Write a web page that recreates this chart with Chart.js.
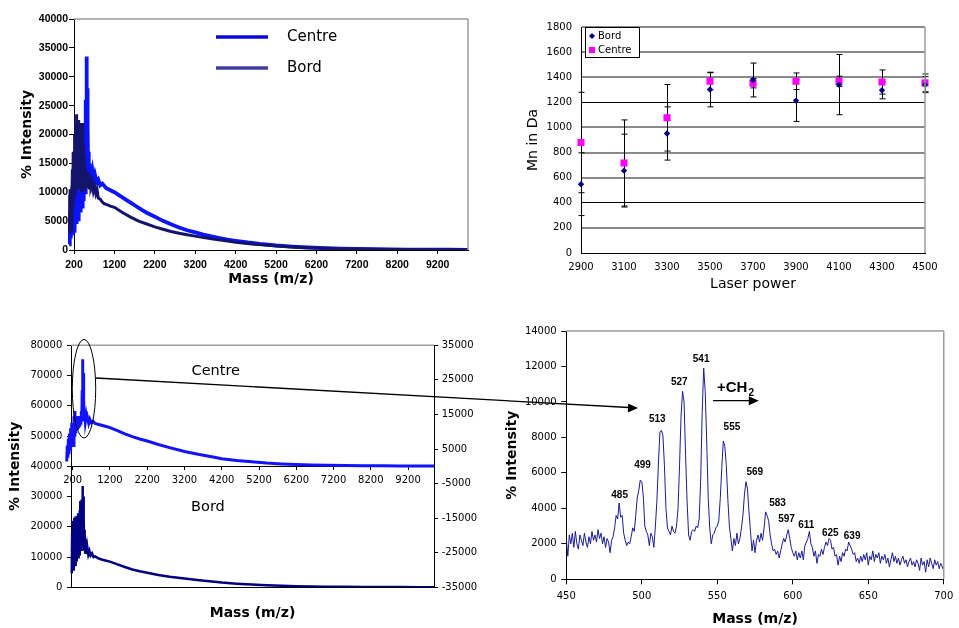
<!DOCTYPE html>
<html>
<head>
<meta charset="utf-8">
<script src="https://cdn.jsdelivr.net/npm/chart.js@4.4.1/dist/chart.umd.min.js"></script>
<style>
  html, body { margin: 0; padding: 0; background: #fff; }
  #page { position: relative; width: 959px; height: 628px; overflow: hidden; }
  #page canvas { position: absolute; }
  #links { position: absolute; left: 0; top: 0; pointer-events: none; }
</style>
</head>
<body>
<div id="page">
  <canvas id="c1" width="480" height="300" style="left:0;top:0"></canvas>
  <canvas id="c2" width="479" height="300" style="left:480px;top:0"></canvas>
  <canvas id="c3" width="480" height="308" style="left:0;top:320px"></canvas>
  <canvas id="c4" width="479" height="308" style="left:480px;top:320px"></canvas>
  <svg id="links" width="959" height="628">
    <ellipse cx="84" cy="388.7" rx="11.7" ry="49.3" fill="none" stroke="#000" stroke-width="1"/>
    <line x1="96" y1="378" x2="629" y2="407.5" stroke="#000" stroke-width="1.3"/>
    <polygon points="638,408 628.2,403.4 627.8,412.4" fill="#000"/>
  </svg>
</div>
<script>
// top left: whole spectra, centre vs edge of the spot
const p1Ticks = [200, 1200, 2200, 3200, 4200, 5200, 6200, 7200, 8200, 9200];
const p1CentreMass = [80, 90, 100, 110, 120, 130, 140, 150, 160, 170, 180, 190, 200, 210, 220, 230, 240, 250, 260, 270,
  280, 290, 300, 310, 320, 330, 340, 350, 360, 370, 380, 390, 400, 410, 420, 430, 440, 450, 460, 470,
  480, 490, 500, 508, 514, 520, 526, 532, 540, 550, 560, 570, 585, 600, 620, 640, 660, 690, 720, 760,
  800, 850, 900, 1000, 1100, 1200, 1300, 1400, 1500, 1600, 1700, 1800, 1900, 2000, 2200, 2400, 2600, 2800,
  3000, 3200, 3400, 3600, 3800, 4000, 4200, 4500, 4800, 5200, 5600, 6000, 6400, 6800, 7200, 7600, 8000,
  8500, 9000, 9500, 9950];
const p1CentreInt = [1000, 5500, 1500, 7000, 2000, 9000, 2500, 10000, 3000, 12000, 3500, 9500, 4000, 13000, 3000, 11000, 5000, 15000, 4500, 12500,
  5500, 16000, 6000, 13500, 5000, 17000, 7000, 14500, 6500, 16500, 8000, 15000, 7500, 17500, 9000, 14000, 8500, 18000, 11000, 22000,
  10000, 26000, 14000, 30000, 33500, 20000, 28000, 15000, 22000, 13500, 17000, 12500, 15000, 12000, 14000, 12500, 13500, 12000, 13000, 11800,
  12200, 11200, 11500, 10700, 10350, 10000, 9550, 9100, 8650, 8200, 7750, 7300, 6850, 6450, 5770, 5050, 4450, 3900,
  3420, 3050, 2680, 2350, 2060, 1800, 1600, 1300, 1050, 780, 580, 430, 330, 250, 190, 140, 110,
  80, 60, 45, 35];
const p1BordMass = [80, 88, 96, 104, 112, 120, 130, 140, 150, 160, 170, 180, 190, 200, 210, 220, 230, 240, 250, 260,
  270, 280, 290, 300, 310, 320, 330, 340, 350, 360, 370, 380, 390, 400, 410, 420, 430, 440, 450, 460,
  470, 480, 500, 520, 540, 560, 580, 600, 620, 650, 680, 710, 740, 770, 800, 850, 900, 950, 1000, 1100,
  1200, 1400, 1600, 1800, 2000, 2200, 2400, 2600, 2800, 3000, 3200, 3600, 4000, 4200, 4600, 5000, 5400, 5800,
  6200, 6600, 7000, 7500, 8000, 8500, 9000, 9500, 9950];
const p1BordInt = [3000, 9500, 4000, 10500, 5000, 9000, 3500, 11000, 6000, 14000, 7000, 17000, 8000, 16000, 9000, 20000, 10000, 22000, 12000, 23500,
  11000, 21000, 13000, 22500, 10500, 20000, 12000, 22000, 11000, 21500, 13000, 20000, 10000, 19000, 12000, 22000, 11000, 18000, 10500, 16000,
  11500, 14000, 11000, 13500, 11000, 12500, 10500, 12000, 11000, 11800, 10200, 11000, 9800, 10500, 9000, 8800, 8300, 8000, 7900, 7600,
  7400, 6500, 5700, 5000, 4500, 4000, 3600, 3200, 2900, 2650, 2400, 1950, 1550, 1350, 1050, 800, 600, 450,
  330, 250, 180, 130, 90, 70, 50, 40, 30];

// top right: Mn against laser power, with error bars
const laserPower = ['2900', '3100', '3300', '3500', '3700', '3900', '4100', '4300', '4500'];
const mnBord = [548, 656, 952, 1302, 1378, 1214, 1341, 1296, 1341];
const mnBordErr = [250, 290, 212, 138, 135, 166, 240, 68, 64];
const mnCentre = [880, 717, 1077, 1368, 1352, 1368, 1368, 1362, 1355];
const mnCentreErr = [400, 343, 265, 68, 37, 66, 40, 96, 71];

// bottom left: the two spectra stacked (Centre on the right axis)
const p3Ticks = [200, 1200, 2200, 3200, 4200, 5200, 6200, 7200, 8200, 9200];
const p3CentreMass = [40, 55, 70, 85, 100, 115, 130, 145, 160, 175, 190, 205, 220, 235, 250, 260, 270, 285, 300, 315,
  330, 345, 360, 375, 390, 405, 420, 435, 445, 455, 462, 470, 476, 482, 490, 500, 510, 525, 540, 560,
  580, 600, 630, 660, 700, 750, 800, 900, 1000, 1100, 1200, 1400, 1600, 1800, 2000, 2200, 2500, 2800,
  3200, 3600, 4000, 4200, 4600, 5000, 5400, 5800, 6200, 6600, 7000, 7500, 8000, 8500, 9000, 9500, 9900];
const p3CentreInt = [1400, 6000, 2500, 8000, 3500, 9500, 5000, 11000, 6000, 12500, 7500, 11000, 6000, 14500, 9000, 16000, 10000, 14000, 11500, 13000,
  10500, 14500, 11000, 13500, 11500, 14000, 12000, 16000, 13000, 22000, 14000, 31000, 20000, 27000, 16000, 19000, 13500, 15500, 13000, 14500,
  12800, 14000, 12500, 13600, 12600, 13000, 12400, 12100, 11800, 11500, 11200, 10300, 9400, 8600, 7900, 7300, 6300, 5400,
  4300, 3400, 2600, 2200, 1700, 1300, 950, 700, 520, 400, 300, 220, 170, 130, 100, 80, 70];
const p3BordMass = [175, 185, 195, 205, 215, 225, 235, 245, 255, 265, 275, 285, 295, 305, 315, 325, 335, 345, 355, 365,
  375, 385, 395, 405, 415, 425, 435, 445, 455, 465, 472, 480, 490, 500, 510, 520, 535, 550, 570, 590,
  620, 650, 680, 720, 760, 800, 900, 1000, 1100, 1200, 1400, 1600, 1800, 2000, 2200, 2500, 2800, 3200,
  3600, 4000, 4200, 4600, 5000, 5400, 5800, 6200, 6600, 7000, 7500, 8000, 8500, 9000, 9500, 9900];
const p3BordInt = [4600, 18000, 6000, 22000, 8000, 20000, 5500, 23000, 9000, 21000, 7000, 23500, 10000, 20000, 8500, 22500, 11000, 24500, 9500, 21000,
  12000, 25500, 10500, 28500, 13000, 26000, 12000, 29000, 15000, 33500, 17000, 30000, 14000, 23000, 12500, 19000, 11500, 16000, 11000, 13500,
  10800, 12000, 10500, 11200, 10000, 10200, 9500, 9100, 8800, 8500, 7600, 6700, 5900, 5300, 4800, 4100, 3500, 2900,
  2300, 1800, 1550, 1200, 900, 650, 480, 360, 270, 200, 150, 110, 80, 60, 50, 40];
const p3Names = ['Centre', 'Bord'];
const p3NameMass = [4040, 3830];
const p3NameInt = [27370, 26550];   // Centre on right axis, Bord on left axis

// bottom right: zoom 450-700, one value per m/z unit
const zoomStart = 450;
const zoomInt = [
  2300, 1300, 2500, 2000, 2600, 1800, 2700, 2000, 1700, 2500,
  2200, 1900, 2600, 2100, 1800, 2400, 2000, 2700, 2200, 2500,
  2100, 2800, 2300, 2600, 2000, 2400, 1800, 2300, 2100, 1500,
  2200, 2400, 2900, 3600, 3400, 4300, 3500, 3600, 2600, 2200,
  1900, 2100, 2000, 2400, 2900, 2700, 3600, 4600, 5000, 5600,
  5500, 4700, 3000, 2700, 2500, 1900, 2600, 2400, 1800, 3000,
  4400, 6500, 8300, 8400, 8100, 6400, 4000, 2900, 2700, 2500,
  3000, 2700, 2600, 3000, 4000, 6400, 9200, 10600, 10000, 7000,
  4400, 2500, 2200, 2700, 2800, 2700, 3000, 2900, 3400, 5600,
  9400, 11900, 10600, 7800, 4600, 2900, 2000, 2500, 2600, 2900,
  3000, 3300, 4600, 6300, 7800, 7500, 6400, 4500, 3000, 2300,
  1600, 2300, 1900, 2600, 2000, 2300, 2900, 3600, 4800, 5500,
  5100, 3800, 2700, 1600, 2200, 1500, 2200, 2500, 2100, 2600,
  2200, 2900, 3800, 3600, 3300, 2500, 2000, 1600, 1700, 1400,
  1600, 1200, 1600, 2000, 2300, 2100, 2500, 2800, 2300, 1800,
  1500, 1300, 1600, 1100, 1500, 1200, 1600, 1100, 1900, 2100,
  2300, 2700, 2000, 1800, 1300, 1600, 900, 1400, 1300, 1700,
  1400, 1800, 2100, 1900, 2300, 2200, 1700, 1800, 1300, 1400,
  800, 1300, 1000, 1500, 1300, 1700, 1600, 2100, 1900, 1700,
  1400, 1500, 1000, 1200, 900, 1300, 1000, 1400, 1100, 1500,
  800, 1300, 1100, 1600, 1000, 1400, 1200, 1500, 900, 1300,
  1100, 1400, 900, 1200, 700, 1100, 1500, 1000, 1300, 900,
  1200, 800, 1100, 1300, 900, 1100, 700, 1000, 1200, 800,
  1000, 700, 1100, 900, 500, 1200, 800, 1000, 400, 1100,
  700, 1200, 900, 600, 1100, 800, 1000, 600, 900, 700,
  500];
const peakMass = [485, 499, 513, 527, 541, 555, 569, 583, 597, 611, 625, 639];
const peakLabelMass = [485.3, 500.5, 510.3, 524.8, 539.3, 559.7, 574.8, 589.9, 595.9, 609, 624.8, 639.3];
const peakLabelInt = [4750, 6450, 9040, 11130, 12430, 8590, 6050, 4310, 3400, 3060, 2610, 2440];
const ch2Text = [549.8, 10580];      // mass, intensity of the text baseline
const ch2Arrow = [547.2, 577.5, 10070];

Chart.defaults.font.family = "'DejaVu Sans', sans-serif";
Chart.defaults.color = '#000';
Chart.defaults.animation = false;

const plain = v => String(v);
const fixWidth = w => s => { s.width = w; };
const fixHeight = h => s => { s.height = h; };
const pairs = (xs, ys) => xs.map((x, i) => ({ x: x, y: ys[i] }));
const titleFont = { family: "'DejaVu Sans'", size: 14, weight: 'bold' };
const smallTicks = { family: "'DejaVu Sans'", size: 10 };
const leftClip = { left: 6, top: 0, right: 0, bottom: 0 };

// grey top / right edge of the plot area
const framePlugin = {
  id: 'frame',
  afterDatasetsDraw(chart, args, opts) {
    const { ctx, chartArea: a } = chart;
    ctx.save();
    ctx.strokeStyle = '#9c9c9c';
    ctx.lineWidth = 1.5;
    ctx.beginPath();
    if (opts.top) { ctx.moveTo(a.left, a.top); ctx.lineTo(a.right, a.top); }
    if (opts.right) { ctx.moveTo(a.right, a.top); ctx.lineTo(a.right, a.bottom); }
    ctx.stroke();
    ctx.restore();
  }
};

const p1Key = {
  id: 'p1key',
  afterDraw(chart) {
    const ctx = chart.ctx;
    ctx.save();
    ctx.font = "15px 'DejaVu Sans'";
    ctx.textBaseline = 'middle';
    chart.data.datasets.forEach((ds, i) => {
      const y = 37 + i * 31;
      ctx.strokeStyle = ds.keyColor;
      ctx.lineWidth = 3.5;
      ctx.beginPath(); ctx.moveTo(216, y); ctx.lineTo(268, y); ctx.stroke();
      ctx.fillStyle = '#000';
      ctx.fillText(ds.label, 287, y);
    });
    ctx.restore();
  }
};

const errorBars = {
  id: 'errorBars',
  beforeDatasetsDraw(chart) {
    const ctx = chart.ctx;
    ctx.save();
    ctx.strokeStyle = '#000';
    ctx.lineWidth = 1;
    chart.data.datasets.forEach((ds, i) => {
      const meta = chart.getDatasetMeta(i);
      const ys = chart.scales[meta.yAxisID];
      meta.data.forEach((pt, j) => {
        const t = ys.getPixelForValue(ds.data[j] + ds.errorBars[j]);
        const b = ys.getPixelForValue(ds.data[j] - ds.errorBars[j]);
        const x = Math.round(pt.x) + 0.5;
        ctx.beginPath();
        ctx.moveTo(x, t); ctx.lineTo(x, b);
        ctx.moveTo(x - 3, t); ctx.lineTo(x + 3, t);
        ctx.moveTo(x - 3, b); ctx.lineTo(x + 3, b);
        ctx.stroke();
      });
    });
    ctx.restore();
  }
};

const p2Key = {
  id: 'p2key',
  afterDraw(chart) {
    const ctx = chart.ctx;
    ctx.save();
    ctx.fillStyle = '#fff';
    ctx.fillRect(105, 27, 54, 30);
    ctx.strokeStyle = '#000';
    ctx.lineWidth = 1;
    ctx.strokeRect(105.5, 27.5, 54, 30);
    ctx.font = "10px 'DejaVu Sans'";
    ctx.textBaseline = 'middle';
    chart.data.datasets.forEach((ds, i) => {
      const x = 112, y = 36 + i * 14;
      ctx.fillStyle = ds.backgroundColor;
      ctx.beginPath();
      if (ds.pointStyle === 'rectRot') {
        ctx.moveTo(x, y - 3); ctx.lineTo(x + 3, y); ctx.lineTo(x, y + 3); ctx.lineTo(x - 3, y);
      } else {
        ctx.rect(x - 3, y - 3, 6, 6);
      }
      ctx.fill();
      ctx.fillStyle = '#000';
      ctx.fillText(ds.label, 118, y);
    });
    ctx.restore();
  }
};

const p3Labels = {
  id: 'p3labels',
  afterDatasetsDraw(chart) {
    const { ctx, scales } = chart;
    ctx.save();
    ctx.font = "14.5px 'DejaVu Sans'";
    ctx.textAlign = 'center';
    ctx.textBaseline = 'middle';
    ctx.fillStyle = '#000';
    const axes = ['y2', 'y'];
    p3Names.forEach((t, i) => {
      ctx.fillText(t, scales.x.getPixelForValue(p3NameMass[i]), scales[axes[i]].getPixelForValue(p3NameInt[i]));
    });
    ctx.restore();
  }
};

const peakLabels = {
  id: 'peakLabels',
  afterDatasetsDraw(chart) {
    const { ctx, scales: { x, y } } = chart;
    ctx.save();
    ctx.fillStyle = '#000';
    ctx.font = "bold 10px 'Liberation Sans'";
    ctx.textAlign = 'center';
    ctx.textBaseline = 'middle';
    peakMass.forEach((m, i) => {
      ctx.fillText(String(m), x.getPixelForValue(peakLabelMass[i]), y.getPixelForValue(peakLabelInt[i]));
    });
    // +CH2 step
    ctx.textAlign = 'left';
    ctx.textBaseline = 'alphabetic';
    ctx.font = "bold 15px 'Liberation Sans'";
    const tx = x.getPixelForValue(ch2Text[0]), ty = y.getPixelForValue(ch2Text[1]);
    ctx.fillText('+CH', tx, ty);
    const w = ctx.measureText('+CH').width;
    ctx.font = "bold 10px 'Liberation Sans'";
    ctx.fillText('2', tx + w + 1, ty + 4);
    const x0 = x.getPixelForValue(ch2Arrow[0]), x1 = x.getPixelForValue(ch2Arrow[1]);
    const ya = y.getPixelForValue(ch2Arrow[2]);
    ctx.strokeStyle = '#000';
    ctx.lineWidth = 1.3;
    ctx.beginPath(); ctx.moveTo(x0, ya); ctx.lineTo(x1 - 8, ya); ctx.stroke();
    ctx.beginPath(); ctx.moveTo(x1, ya); ctx.lineTo(x1 - 10, ya - 4.5); ctx.lineTo(x1 - 10, ya + 4.5); ctx.closePath(); ctx.fill();
    ctx.restore();
  }
};

// ---------- top left ----------
new Chart(document.getElementById('c1'), {
  type: 'line',
  data: {
    datasets: [
      { label: 'Centre', data: pairs(p1CentreMass, p1CentreInt), borderColor: '#0a14ff', keyColor: '#0808dc', borderWidth: 3.8, order: 2, clip: leftClip },
      { label: 'Bord', data: pairs(p1BordMass, p1BordInt), borderColor: '#14146c', keyColor: '#4040a4', borderWidth: 3, order: 1, clip: leftClip }
    ]
  },
  options: {
    responsive: false,
    animation: false,
    layout: { padding: { left: 0, top: 19, right: 12, bottom: 0 } },
    elements: { point: { radius: 0 }, line: { tension: 0 } },
    plugins: { legend: { display: false }, tooltip: { enabled: false }, frame: { top: true, right: true } },
    scales: {
      x: {
        type: 'linear',
        afterBuildTicks: s => { s.ticks = p1Ticks.map(v => ({ value: v })); s.min = 200; s.max = 9950; },
        afterFit: fixHeight(50),
        grid: { drawOnChartArea: false, tickLength: 4, color: '#000' },
        border: { color: '#000' },
        ticks: { font: { family: "'Liberation Sans'", size: 10.5, weight: 'bold' }, padding: 4.7, maxRotation: 0, autoSkip: false, callback: plain },
        title: { display: true, text: 'Mass (m/z)', font: titleFont, padding: { top: 0, bottom: 12.3 } }
      },
      y: {
        min: 0, max: 40000,
        afterFit: fixWidth(74),
        grid: { drawOnChartArea: false, tickLength: 5, color: '#000' },
        border: { color: '#000' },
        ticks: { stepSize: 5000, font: { family: "'Liberation Sans'", size: 10.5, weight: 'bold' }, padding: 1, callback: plain },
        title: { display: true, text: '% Intensity', font: titleFont, padding: { top: 18.6, bottom: 0 } }
      }
    }
  },
  plugins: [framePlugin, p1Key]
});

// ---------- top right ----------
const strongGrid = v => v === 0 || v === 400 || v === 1200;
new Chart(document.getElementById('c2'), {
  type: 'line',
  data: {
    labels: laserPower,
    datasets: [
      { label: 'Bord', data: mnBord, errorBars: mnBordErr, showLine: false, pointStyle: 'rectRot', pointRadius: 3.2,
        backgroundColor: '#000080', borderColor: '#000080', borderWidth: 0 },
      { label: 'Centre', data: mnCentre, errorBars: mnCentreErr, showLine: false, pointStyle: 'rect', pointRadius: 5,
        backgroundColor: '#ff00ff', borderColor: '#ff00ff', borderWidth: 0 }
    ]
  },
  options: {
    responsive: false,
    animation: false,
    layout: { padding: { left: 0, top: 27, right: 34, bottom: 0 } },
    plugins: { legend: { display: false }, tooltip: { enabled: false }, frame: { top: false, right: true } },
    scales: {
      x: {
        afterFit: fixHeight(47),
        grid: { display: false, drawTicks: false },
        border: { color: '#000' },
        ticks: { font: smallTicks, padding: 8.3, maxRotation: 0, autoSkip: false },
        title: { display: true, text: 'Laser power', font: { family: "'DejaVu Sans'", size: 14 }, padding: { top: 0, bottom: 7.6 } }
      },
      y: {
        min: 0, max: 1800,
        afterFit: fixWidth(101),
        grid: {
          drawTicks: false,
          color: c => strongGrid(c.tick.value) ? '#000' : '#8a8a8a',
          lineWidth: c => strongGrid(c.tick.value) ? 1 : 2
        },
        border: { color: '#000' },
        ticks: { stepSize: 200, font: smallTicks, padding: 9, callback: plain },
        title: { display: true, text: 'Mn in Da', font: { family: "'DejaVu Sans'", size: 14 }, padding: { top: 44.6, bottom: 0 } }
      }
    }
  },
  plugins: [errorBars, framePlugin, p2Key]
});

// ---------- bottom left ----------
new Chart(document.getElementById('c3'), {
  type: 'line',
  data: {
    datasets: [
      { label: 'Centre', data: pairs(p3CentreMass, p3CentreInt), xAxisID: 'x', yAxisID: 'y2', borderColor: '#1212ff', borderWidth: 3, clip: leftClip },
      { label: 'Bord', data: pairs(p3BordMass, p3BordInt), xAxisID: 'x', yAxisID: 'y', borderColor: '#000080', borderWidth: 2.5, clip: leftClip }
    ]
  },
  options: {
    responsive: false,
    animation: false,
    layout: { padding: { left: 0, top: 25.3, right: 0, bottom: 0 } },
    elements: { point: { radius: 0 }, line: { tension: 0 } },
    plugins: { legend: { display: false }, tooltip: { enabled: false }, frame: { top: true, right: false } },
    scales: {
      x: {
        type: 'linear',
        position: { y: 40000 },
        afterBuildTicks: s => { s.ticks = p3Ticks.map(v => ({ value: v })); s.min = 155; s.max = 9895; },
        afterFit: fixHeight(0),
        grid: { drawOnChartArea: false, tickLength: 3, color: '#000' },
        border: { color: '#000' },
        ticks: { font: smallTicks, padding: 5.3, maxRotation: 0, autoSkip: false, callback: plain }
      },
      xb: {
        type: 'linear',
        position: 'bottom',
        afterFit: fixHeight(40.7),
        grid: { display: false },
        border: { color: '#000' },
        ticks: { display: false },
        title: { display: true, text: 'Mass (m/z)', font: titleFont, padding: { top: 0, bottom: 6.6 } }
      },
      y: {
        position: 'left',
        min: 0, max: 80000,
        afterFit: fixWidth(71),
        grid: { drawOnChartArea: false, tickLength: 4, color: '#000' },
        border: { color: '#000' },
        ticks: { stepSize: 10000, font: smallTicks, padding: 4.7, callback: plain },
        title: { display: true, text: '% Intensity', font: titleFont, padding: { top: 6.6, bottom: 0 } }
      },
      y2: {
        position: 'right',
        min: -35000, max: 35000,
        afterFit: fixWidth(46),
        grid: { drawOnChartArea: false, tickLength: 4, color: '#000' },
        border: { color: '#000' },
        ticks: { stepSize: 10000, font: smallTicks, padding: 3.7, callback: plain }
      }
    }
  },
  plugins: [framePlugin, p3Labels]
});

// ---------- bottom right ----------
new Chart(document.getElementById('c4'), {
  type: 'line',
  data: {
    datasets: [
      { label: 'Centre, 450-700', data: zoomInt.map((v, i) => ({ x: zoomStart + i, y: v })), borderColor: '#1c1c96', borderWidth: 1 }
    ]
  },
  options: {
    responsive: false,
    animation: false,
    layout: { padding: { left: 0, top: 11, right: 13.3, bottom: 0 } },
    elements: { point: { radius: 0 }, line: { tension: 0 } },
    plugins: { legend: { display: false }, tooltip: { enabled: false }, frame: { top: true, right: true } },
    scales: {
      x: {
        type: 'linear',
        min: 450, max: 700,
        afterFit: fixHeight(48.7),
        grid: { drawOnChartArea: false, tickLength: 5, color: '#000' },
        border: { color: '#000' },
        ticks: { stepSize: 50, font: smallTicks, padding: 5.7, maxRotation: 0, callback: plain },
        title: { display: true, text: 'Mass (m/z)', font: titleFont, padding: { top: 0, bottom: 0 } }
      },
      y: {
        min: 0, max: 14000,
        afterFit: fixWidth(86.3),
        grid: { drawOnChartArea: false, tickLength: 5, color: '#000' },
        border: { color: '#000' },
        ticks: { stepSize: 2000, font: smallTicks, padding: 4.6, callback: plain },
        title: { display: true, text: '% Intensity', font: titleFont, padding: { top: 23.6, bottom: 0 } }
      }
    }
  },
  plugins: [framePlugin, peakLabels]
});
</script>
</body>
</html>
